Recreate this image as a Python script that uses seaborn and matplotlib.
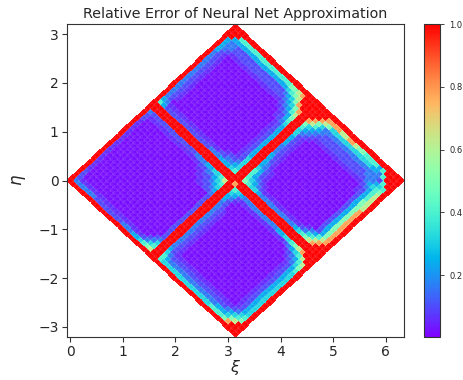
import numpy as np
import matplotlib
matplotlib.use("Agg")
import matplotlib.pyplot as plt
import seaborn as sns

# ---- data ----
N_NODES = 50  # grid nodes per side in (u, v); xi = u + v, eta = u - v
LEVEL_KEYS = "0123456789R"
LEVEL_VALUES = [0.02, 0.06, 0.10, 0.16, 0.24, 0.32, 0.40, 0.50, 0.62, 0.78, 1.00]
COLOR_LIMITS = [0.003, 1.0]

# rows: u index 0..49, columns: v index 0..49 (spaces only for readability)
ERR_ROWS = [
    "R RRRRR RRRRR RRRRR RRRRR RRR RR RRRRR RRRRR RRRRR RRRRR RRR R",
    "R 33333 32222 22223 33445 678 RR 65555 55555 55555 66667 9RR R",
    "R 21111 11111 11111 11112 356 RR 64333 33333 33333 34445 78R R",
    "R 20000 00000 00000 00000 235 RR 53222 22222 22222 22234 567 R",
    "R 20000 00000 00000 00000 023 RR 42111 11111 11111 11112 356 R",
    "R 10000 00000 00000 00000 002 RR 32100 00000 00000 00001 245 R",
    "R 10000 00000 00000 00000 002 RR 32100 00000 00000 00001 245 R",
    "R 10000 00000 00000 00000 002 RR 32100 00000 00000 00001 245 R",
    "R 10000 00000 00000 00000 002 RR 32100 00000 00000 00001 245 R",
    "R 10000 00000 00000 00000 002 RR 32100 00000 00000 00001 245 R",
    "R 10000 00000 00000 00000 002 RR 32100 00000 00000 00001 245 R",
    "R 10000 00000 00000 00000 002 RR 32100 00000 00000 00001 245 R",
    "R 10000 00000 00000 00000 002 RR 32100 00000 00000 00001 245 R",
    "R 10000 00000 00000 00000 002 RR 32100 00000 00000 00001 245 R",
    "R 10000 00000 00000 00000 002 RR 32100 00000 00000 00001 245 R",
    "R 10000 00000 00000 00000 002 RR 32100 00000 00000 00001 245 R",
    "R 10000 00000 00000 00000 002 RR 32100 00000 00000 00001 245 R",
    "R 10000 00000 00000 00000 002 RR 32100 00000 00000 00001 245 R",
    "R 10000 00000 00000 00000 002 RR 32100 00000 00000 00001 245 R",
    "R 10000 00000 00000 00011 223 RR 32000 00000 00000 00001 246 R",
    "R 10000 00000 00000 00112 234 RR 42000 00000 00000 00012 357 R",
    "R 20000 00000 00000 01122 345 RR 43100 00000 00000 00123 468 R",
    "R 21111 11111 11111 12233 456 RR 54211 11111 11111 12345 68R R",
    "R 32222 22222 22223 33445 568 RR 65433 33333 33344 55678 9RR R",
    "R RRRRR RRRRR RRRRR RRRRR RRR R9 RRRRR RRRRR RRRRR RRRRR RRR R",
    "R RRRRR RRRRR RRRRR RRRRR RRR RR RRRRR RRRRR RRRRR RRRRR RRR R",
    "R 64222 22222 22222 33344 456 RR 76554 33333 33333 45678 9RR R",
    "R 43111 11111 11111 11223 345 RR 65432 11111 11111 12356 89R R",
    "R 32000 00000 00000 00012 235 RR 64321 00000 00000 00134 689 R",
    "R 32100 00000 00000 00000 125 RR 64210 00000 00000 00002 479 R",
    "R 32100 00000 00000 00000 125 RR 54210 00000 00000 00002 479 R",
    "R 32100 00000 00000 00000 124 RR 43210 00000 00000 00002 479 R",
    "R 32100 00000 00000 00000 124 RR 43100 00000 00000 00002 479 R",
    "R 32100 00000 00000 00000 124 RR 42100 00000 00000 00002 479 R",
    "R 32100 00000 00000 00000 124 RR 42100 00000 00000 00002 479 R",
    "R 32100 00000 00000 00000 124 RR 32100 00000 00000 00002 479 R",
    "R 32100 00000 00000 00000 124 RR 32100 00000 00000 00002 479 R",
    "R 32100 00000 00000 00000 124 RR 32100 00000 00000 00002 479 R",
    "R 32100 00000 00000 00000 124 RR 42100 00000 00000 00002 479 R",
    "R 32100 00000 00000 00000 124 RR 42100 00000 00000 00002 478 R",
    "R 32100 00000 00000 00000 124 RR 42100 00000 00000 00002 478 R",
    "R 32100 00000 00000 00001 235 RR 52100 00000 00000 00012 468 R",
    "R 32100 00000 00000 00001 246 RR 53210 00000 00000 00012 468 R",
    "R 42100 00000 00000 00012 347 RR 64321 11111 11111 11123 468 R",
    "R 43211 11111 11111 11123 468 RR 75432 22222 22222 22234 567 R",
    "R 43322 22222 22222 22234 579 RR 98643 22222 22222 22333 456 R",
    "R 43322 22222 22222 22345 79R RR R9753 33333 33333 33333 26R R",
    "R R4444 44444 44444 44567 8RR RR RR987 55555 55555 55443 6RR R",
    "R RR666 66666 66666 66778 9RR RR RRR99 99889 98776 66646 RRR R",
    "R RRRRR RRRRR RRRRR RRRRR RRR RR RRRRR RRRRR RRRRR RRRRR RRR R",
]

TITLE = "Relative Error of Neural Net Approximation"
X_LABEL = r"$\xi$"
Y_LABEL = r"$\eta$"
X_TICKS = [0, 1, 2, 3, 4, 5, 6]
Y_TICKS = [-3, -2, -1, 0, 1, 2, 3]
CBAR_TICKS = [0.2, 0.4, 0.6, 0.8, 1.0]

# ---- style ----
sns.set_style("ticks")
plt.rcParams["font.family"] = ["DejaVu Sans"]
plt.rcParams["axes.edgecolor"] = "#333333"
plt.rcParams["axes.linewidth"] = 0.8

rows = [r.replace(" ", "") for r in ERR_ROWS]
assert len(rows) == N_NODES and all(len(r) == N_NODES for r in rows), [len(r) for r in rows]
lut = dict(zip(LEVEL_KEYS, LEVEL_VALUES))
err = np.array([[lut[c] for c in r] for r in rows])

h = np.pi / (N_NODES - 1)
edges = np.linspace(-h / 2, np.pi + h / 2, N_NODES + 1)
Ue, Ve = np.meshgrid(edges, edges, indexing="ij")
XI = Ue + Ve
ETA = Ue - Ve

fig = plt.figure(figsize=(4.63, 3.80), dpi=100)
ax = fig.add_axes([0.1447, 0.1132, 0.7279, 0.8236])
cax = fig.add_axes([0.9168, 0.1132, 0.0346, 0.8236])

cmap = sns.color_palette("rainbow", as_cmap=True)
mesh = ax.pcolormesh(XI, ETA, err, cmap=cmap, vmin=COLOR_LIMITS[0], vmax=COLOR_LIMITS[1],
                     edgecolors=(1, 1, 1, 0.07), linewidth=0.3)

ax.set_xticks(X_TICKS)
ax.set_yticks(Y_TICKS)
ax.tick_params(labelsize=10, length=3.5, width=0.8, color="#333333", pad=2.5)
ax.set_title(TITLE, fontsize=10.3, pad=4)
ax.set_xlabel(X_LABEL, fontsize=11.5, labelpad=-1)
ax.set_ylabel(Y_LABEL, fontsize=12, labelpad=7)

cb = fig.colorbar(mesh, cax=cax)
cb.set_ticks(CBAR_TICKS)
cb.ax.tick_params(labelsize=6, length=3, width=0.6)
cb.outline.set_linewidth(0.8)

fig.savefig("out.png", dpi=100)
